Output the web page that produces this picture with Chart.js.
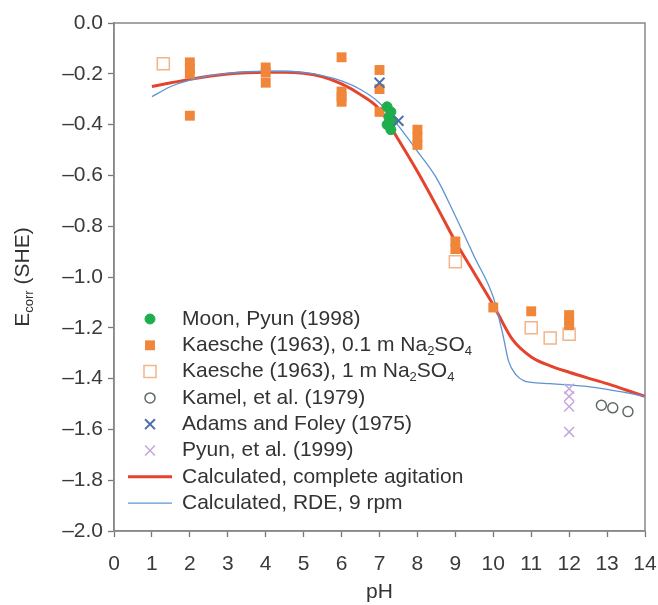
<!DOCTYPE html>
<html>
<head>
<meta charset="utf-8">
<script src="https://cdn.jsdelivr.net/npm/chart.js@4.4.1/dist/chart.umd.min.js"></script>
<style>
  html, body { margin: 0; padding: 0; background: #fff; }
</style>
</head>
<body>
<canvas id="corrChart" width="658" height="605"></canvas>
<script>
// axis ticks
const pHTicks = [0, 1, 2, 3, 4, 5, 6, 7, 8, 9, 10, 11, 12, 13, 14];
const eTicks = [0, -0.2, -0.4, -0.6, -0.8, -1.0, -1.2, -1.4, -1.6, -1.8, -2.0];

// measured points
const moonPh = [7.2, 7.3, 7.25, 7.35, 7.2, 7.3];
const moonE = [-0.33, -0.35, -0.37, -0.385, -0.40, -0.42];

const kaesche01Ph = [2, 2, 2, 2, 4, 4, 4, 6, 6, 6, 6, 7, 7, 7, 8, 8, 8, 9, 9, 10, 11, 12, 12, 12];
const kaesche01E = [-0.155, -0.18, -0.2, -0.365, -0.175, -0.195, -0.235, -0.135, -0.27, -0.29, -0.31,
  -0.185, -0.26, -0.35, -0.42, -0.45, -0.48, -0.86, -0.89, -1.12, -1.135, -1.15, -1.17, -1.19];

const kaesche1Ph = [1.3, 9, 11, 11.5, 12];
const kaesche1E = [-0.16, -0.94, -1.2, -1.24, -1.225];

const kamelPh = [12.85, 13.15, 13.55];
const kamelE = [-1.505, -1.515, -1.53];

const adamsPh = [7.0, 7.5];
const adamsE = [-0.235, -0.385];

const pyunPh = [12, 12, 12, 12];
const pyunE = [-1.44, -1.47, -1.51, -1.61];

// calculated curves
const agitationPh = [1, 1.5, 2, 2.5, 3, 3.5, 4, 4.5, 5, 5.5, 6, 6.5, 7, 7.5, 8, 8.5, 9, 9.5, 10, 10.5, 11, 11.5, 12, 12.5, 13, 13.5, 14];
const agitationE = [-0.25, -0.235, -0.222, -0.21, -0.201, -0.196, -0.194, -0.194, -0.198, -0.212, -0.24, -0.282, -0.34,
  -0.46, -0.585, -0.72, -0.86, -0.985, -1.11, -1.245, -1.315, -1.35, -1.375, -1.398, -1.42, -1.445, -1.47];

const rdePh = [1, 1.5, 2, 2.5, 3, 3.5, 4, 4.5, 5, 5.5, 6, 6.5, 7, 7.5, 8, 8.5, 9, 9.5, 10, 10.25, 10.4, 10.6, 10.8, 11, 11.5, 12, 12.5, 13, 13.5, 14];
const rdeE = [-0.29, -0.25, -0.225, -0.208, -0.198, -0.192, -0.19, -0.19, -0.195, -0.207, -0.228, -0.262, -0.315,
  -0.405, -0.505, -0.61, -0.76, -0.92, -1.08, -1.225, -1.33, -1.385, -1.408, -1.415, -1.42, -1.425, -1.432, -1.442, -1.455, -1.47];

const FONT = "'Liberation Sans', Arial, sans-serif";
Chart.defaults.font.family = FONT;

function pts(xs, ys) {
  return xs.map((x, i) => ({ x: x, y: ys[i] }));
}

// draws text where ₂ ₄ become small lowered digits
function drawRich(ctx, text, x, y, size) {
  const subs = { '₂': '2', '₄': '4' };
  let cx = x;
  text.split(/([₂₄])/).forEach(seg => {
    if (!seg) return;
    if (subs[seg]) {
      ctx.font = (size * 0.62) + 'px ' + FONT;
      ctx.fillText(subs[seg], cx, y + size * 0.3);
      cx += ctx.measureText(subs[seg]).width;
    } else {
      ctx.font = size + 'px ' + FONT;
      ctx.fillText(seg, cx, y);
      cx += ctx.measureText(seg).width;
    }
  });
}

const framePlugin = {
  id: 'frame',
  beforeDatasetsDraw(chart) {
    const a = chart.chartArea, ctx = chart.ctx;
    ctx.save();
    ctx.strokeStyle = '#888';
    ctx.lineWidth = 1.5;
    ctx.strokeRect(a.left, a.top, a.right - a.left, a.bottom - a.top);
    ctx.restore();
  }
};

const yTitlePlugin = {
  id: 'yTitle',
  afterDraw(chart) {
    const ctx = chart.ctx;
    ctx.save();
    ctx.translate(23, 277);
    ctx.rotate(-Math.PI / 2);
    ctx.fillStyle = '#333';
    ctx.textBaseline = 'middle';
    ctx.font = '21px ' + FONT;
    const w1 = ctx.measureText('E').width;
    ctx.font = '13px ' + FONT;
    const w2 = ctx.measureText('corr').width;
    ctx.font = '21px ' + FONT;
    const w3 = ctx.measureText(' (SHE)').width;
    let x = -(w1 + w2 + w3) / 2;
    ctx.fillText('E', x, 0);
    x += w1;
    ctx.font = '13px ' + FONT;
    ctx.fillText('corr', x, 6);
    x += w2;
    ctx.font = '21px ' + FONT;
    ctx.fillText(' (SHE)', x, 0);
    ctx.restore();
  }
};

const legendPlugin = {
  id: 'insideLegend',
  afterDraw(chart) {
    const ctx = chart.ctx;
    ctx.save();
    chart.data.datasets.forEach((ds, i) => {
      const y = 319 + i * 26.3;
      ctx.strokeStyle = ds.borderColor;
      ctx.fillStyle = ds.backgroundColor;
      if (ds.showLine) {
        ctx.lineWidth = ds.borderWidth;
        ctx.beginPath();
        ctx.moveTo(128, y);
        ctx.lineTo(172, y);
        ctx.stroke();
      } else {
        ctx.lineWidth = ds.pointBorderWidth;
        Chart.helpers.drawPoint(ctx, {
          pointStyle: ds.pointStyle,
          radius: ds.pointRadius,
          rotation: 0,
          borderWidth: ds.pointBorderWidth
        }, 150, y);
      }
      ctx.fillStyle = '#333';
      ctx.textBaseline = 'middle';
      drawRich(ctx, ds.label, 182, y, 21);
    });
    ctx.restore();
  }
};

const ctxCorr = document.getElementById('corrChart').getContext('2d');
new Chart(ctxCorr, {
  type: 'scatter',
  data: {
    datasets: [{
      label: 'Moon, Pyun (1998)',
      data: pts(moonPh, moonE),
      pointStyle: 'circle',
      pointRadius: 5,
      pointBorderWidth: 1,
      borderColor: '#1fae4c',
      backgroundColor: '#1fae4c',
      order: 1
    }, {
      label: 'Kaesche (1963), 0.1 m Na₂SO₄',
      data: pts(kaesche01Ph, kaesche01E),
      pointStyle: 'rect',
      pointRadius: 7,
      pointBorderWidth: 0,
      borderColor: '#f0863a',
      backgroundColor: '#f0863a',
      order: 2
    }, {
      label: 'Kaesche (1963), 1 m Na₂SO₄',
      data: pts(kaesche1Ph, kaesche1E),
      pointStyle: 'rect',
      pointRadius: 8.5,
      pointBorderWidth: 1.5,
      borderColor: '#f2b488',
      backgroundColor: 'rgba(255,255,255,0)',
      order: 3
    }, {
      label: 'Kamel, et al. (1979)',
      data: pts(kamelPh, kamelE),
      pointStyle: 'circle',
      pointRadius: 5,
      pointBorderWidth: 1.5,
      borderColor: '#5f6b66',
      backgroundColor: 'rgba(255,255,255,0)',
      order: 4
    }, {
      label: 'Adams and Foley (1975)',
      data: pts(adamsPh, adamsE),
      pointStyle: 'crossRot',
      pointRadius: 7,
      pointBorderWidth: 2,
      borderColor: '#4d6fa8',
      backgroundColor: '#4d6fa8',
      order: 0
    }, {
      label: 'Pyun, et al. (1999)',
      data: pts(pyunPh, pyunE),
      pointStyle: 'crossRot',
      pointRadius: 7,
      pointBorderWidth: 1.5,
      borderColor: '#c4a6dc',
      backgroundColor: '#c4a6dc',
      order: 5
    }, {
      label: 'Calculated, complete agitation',
      data: pts(agitationPh, agitationE),
      showLine: true,
      pointRadius: 0,
      borderWidth: 3,
      borderColor: '#e5432d',
      backgroundColor: '#e5432d',
      cubicInterpolationMode: 'monotone',
      order: 10
    }, {
      label: 'Calculated, RDE, 9 rpm',
      data: pts(rdePh, rdeE),
      showLine: true,
      pointRadius: 0,
      borderWidth: 1.3,
      borderColor: '#5e93d3',
      backgroundColor: '#5e93d3',
      cubicInterpolationMode: 'monotone',
      order: 9
    }]
  },
  options: {
    responsive: false,
    animation: false,
    devicePixelRatio: 1,
    layout: { padding: { top: 23, right: 13, left: 0, bottom: 0 } },
    plugins: {
      legend: { display: false },
      tooltip: { enabled: false }
    },
    scales: {
      x: {
        type: 'linear',
        min: 0,
        max: 14,
        afterBuildTicks: s => { s.ticks = pHTicks.map(v => ({ value: v })); },
        afterFit: s => { s.height = 74; s.paddingLeft = 0; s.paddingRight = 0; },
        ticks: { font: { size: 21 }, color: '#3a3a3a', padding: 15, maxRotation: 0, autoSkip: false },
        grid: { drawOnChartArea: false, tickLength: 6, color: '#777', tickWidth: 1.3 },
        border: { color: '#888', width: 1.5 },
        title: { display: true, text: 'pH', font: { size: 21 }, color: '#333', padding: { top: 0, bottom: 0 } }
      },
      y: {
        type: 'linear',
        min: -2,
        max: 0,
        afterBuildTicks: s => { s.ticks = eTicks.map(v => ({ value: v })); },
        afterFit: s => { s.width = 114; },
        ticks: {
          font: { size: 21 },
          color: '#3a3a3a',
          padding: 5,
          autoSkip: false,
          callback: v => v === 0 ? '0.0' : '\u2013' + Math.abs(v).toFixed(1)
        },
        grid: { drawOnChartArea: false, tickLength: 6, color: '#777', tickWidth: 1.3 },
        border: { color: '#888', width: 1.5 }
      }
    }
  },
  plugins: [framePlugin, yTitlePlugin, legendPlugin]
});
</script>
</body>
</html>
